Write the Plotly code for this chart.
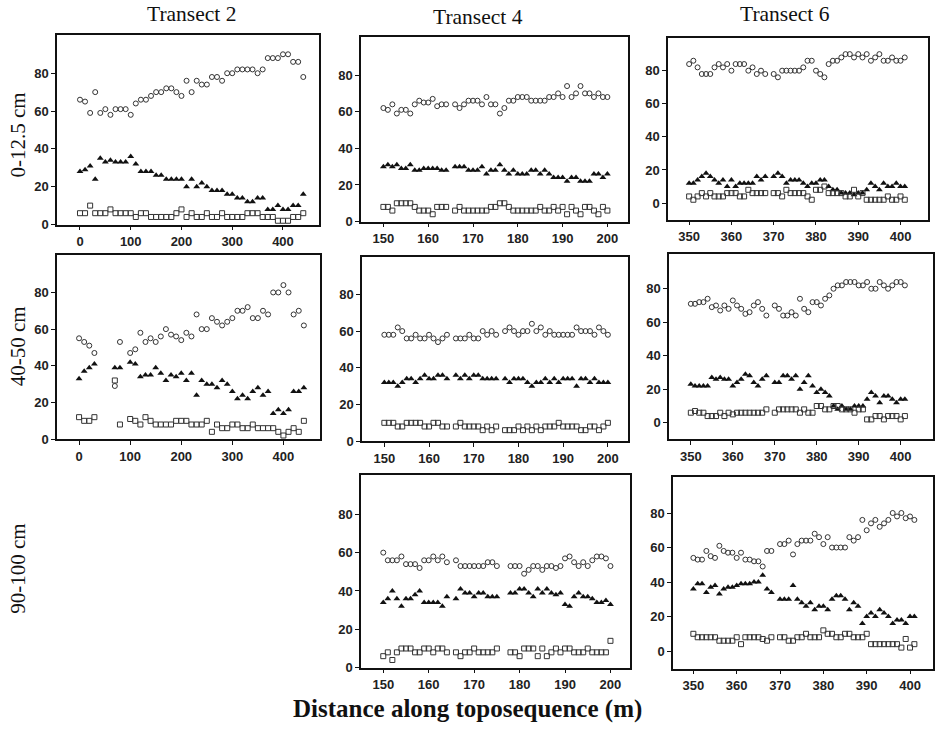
import plotly.graph_objects as go

# ---------------- distances (m) ----------------
T2_X = list(range(0, 450, 10))      # 0 .. 440
T4_X = list(range(150, 201))        # 150 .. 200
T6_X = list(range(350, 402))        # 350 .. 401
N = None

# ---------------- Transect 2, 0-12.5 cm ----------------
t2_d1_circ = [66, 65, 59, 70, 59, 61, 58, 61, 61, 61, 58, 64, 66, 66, 68, 70, 70, 72, 72, 70,
              68, 76, 70, 76, 74, 74, 78, 78, 76, 80, 80, 82, 82, 82, 82, 80, 82, 88, 88, 88,
              90, 90, 86, 86, 78]
t2_d1_tri = [28, 29, 31, 24, 35, 33, 34, 33, 33, 33, 36, 32, 28, 28, 28, 26, 26, 24, 24, 24,
             24, 20, 24, 20, 22, 20, 18, 18, 18, 16, 16, 14, 14, 12, 12, 14, 14, 8, 8, 10,
             8, 8, 10, 10, 16]
t2_d1_sq = [6, 6, 10, 6, 6, 6, 8, 6, 6, 6, 6, 4, 6, 6, 4, 4, 4, 4, 4, 6,
            8, 4, 6, 4, 4, 6, 4, 4, 6, 4, 4, 4, 4, 6, 6, 6, 4, 4, 4, 2,
            2, 2, 4, 4, 6]

# ---------------- Transect 2, 40-50 cm ----------------
t2_d2_circ = [55, 53, 51, 47, N, N, N, 29, 53, N,
              47, 49, 58, 53, 55, 53, 56, 60, 57, 56,
              54, 58, 56, 68, 60, 60, 66, 64, 62, 64,
              66, 70, 70, 72, 66, 66, 70, 68, 80, 80,
              84, 80, 68, 70, 62]
t2_d2_tri = [33, 37, 39, 41, N, N, N, 39, 39, N,
             42, 41, 34, 35, 35, 39, 36, 32, 35, 34,
             36, 32, 36, 24, 32, 30, 30, 28, 32, 30,
             26, 22, 24, 22, 26, 28, 24, 26, 14, 16,
             14, 16, 26, 26, 28]
t2_d2_sq = [12, 10, 10, 12, N, N, N, 32, 8, N,
            11, 10, 8, 12, 10, 8, 8, 8, 8, 10,
            10, 10, 8, 8, 8, 10, 4, 8, 6, 6,
            8, 8, 6, 6, 8, 6, 6, 6, 6, 4,
            2, 4, 6, 4, 10]

# ---------------- Transect 4, 0-12.5 cm ----------------
t4_d1_circ = [62, 61, 64, 59, 61, 61, 59, 64, 66, 65, 65, 67, 63, 64, 64, N,
              64, 62, 64, 66, 66, 66, 64, 68, 64, 64,
              59, 62, 66, 66, 68, 68, 68, 66, 66, 66,
              66, 68, 68, 70, 68, 74, 68, 70, 74, 70,
              70, 68, 70, 68, 68]
t4_d1_tri = [30, 31, 30, 31, 29, 29, 31, 28, 28, 29, 29, 29, 29, 28, 28, N,
             30, 30, 30, 28, 28, 28, 30, 26, 28, 28,
             31, 28, 26, 28, 26, 26, 26, 28, 28, 26,
             28, 26, 24, 24, 24, 22, 24, 24, 22, 22,
             22, 26, 26, 24, 26]
t4_d1_sq = [8, 8, 6, 10, 10, 10, 10, 8, 6, 6, 6, 4, 8, 8, 8, N,
            6, 8, 6, 6, 6, 6, 6, 6, 8, 8,
            10, 10, 8, 6, 6, 6, 6, 6, 6, 8,
            6, 6, 8, 6, 8, 4, 8, 6, 4, 8,
            8, 6, 4, 8, 6]

# ---------------- Transect 4, 40-50 cm ----------------
t4_d2_circ = [58, 58, 58, 62, 60, 56, 56, 58, 56, 56, 58, 56, 54, 56, 58, N,
              56, 56, 56, 58, 56, 56, 60, 58, 60, 58, N,
              60, 62, 60, 58, 60, 60, 64, 60, 62, 58,
              60, 58, 58, 58, 58, 58, 62, 60, 60, 60,
              58, 62, 60, 58]
t4_d2_tri = [32, 32, 32, 30, 32, 34, 34, 32, 34, 36, 34, 34, 36, 36, 34, N,
             36, 34, 36, 34, 36, 36, 34, 34, 34, 34, N,
             34, 32, 34, 34, 34, 32, 30, 32, 32, 34,
             32, 34, 32, 34, 34, 34, 30, 34, 34, 32,
             34, 32, 32, 32]
t4_d2_sq = [10, 10, 10, 8, 8, 10, 10, 10, 10, 8, 8, 10, 10, 8, 8, N,
            8, 10, 8, 8, 8, 8, 6, 8, 6, 8, N,
            6, 6, 6, 8, 6, 8, 6, 8, 6, 8,
            8, 8, 10, 8, 8, 8, 8, 6, 6, 8,
            8, 6, 8, 10]

# ---------------- Transect 4, 90-100 cm ----------------
t4_d3_circ = [60, 56, 56, 56, 58, 54, 54, 54, 52, 56, 56, 58, 56, 58, 55, N,
              56, 53, 53, 53, 53, 53, 53, 55, 55, 53, N, N,
              53, 53, 53, 49, 51, 53, 53, 51, 53, 53,
              52, 53, 57, 58, 55, 53, 55, 53, 56, 58,
              58, 57, 53]
t4_d3_tri = [34, 36, 40, 36, 32, 36, 36, 38, 40, 34, 34, 34, 34, 32, 37, N,
             36, 41, 39, 39, 37, 39, 39, 37, 37, 37, N, N,
             39, 39, 41, 41, 39, 37, 41, 39, 41, 39,
             38, 39, 33, 32, 37, 39, 37, 37, 36, 34,
             34, 35, 33]
t4_d3_sq = [6, 8, 4, 8, 10, 10, 10, 8, 8, 10, 10, 8, 10, 10, 8, N,
            8, 6, 8, 8, 10, 8, 8, 8, 8, 10, N, N,
            8, 8, 6, 10, 10, 10, 6, 10, 6, 8,
            10, 8, 10, 10, 8, 8, 8, 10, 8, 8,
            8, 8, 14]

# ---------------- Transect 6, 0-12.5 cm ----------------
t6_d1_circ = [84, 86, 82, 78, 78, 78, 82, 84, 82, 84, 80, 84, 84, 84, 80, 82, 78, 80, 78, N,
              78, 76, 80, 80, 80, 80, 80, 82, 86, 86,
              80, 78, 76, 84, 86, 86, 88, 90, 90, 88,
              90, 88, 90, 86, 88, 90, 86, 86, 88, 86,
              86, 88]
t6_d1_tri = [12, 12, 14, 16, 18, 16, 14, 12, 14, 10, 14, 10, 12, 12, 12, 12, 16, 14, 16, N,
             16, 18, 16, 12, 14, 14, 14, 12, 10, 12,
             12, 14, 14, 10, 8, 8, 6, 6, 6, 5,
             6, 6, 8, 12, 10, 8, 12, 10, 10, 12,
             10, 10]
t6_d1_sq = [4, 2, 4, 6, 4, 6, 4, 4, 4, 6, 6, 6, 4, 4, 8, 6, 6, 6, 6, N,
            6, 6, 4, 8, 6, 6, 6, 6, 4, 2,
            8, 8, 10, 6, 6, 6, 6, 4, 4, 8,
            4, 6, 2, 2, 2, 2, 2, 4, 2, 2,
            4, 2]

# ---------------- Transect 6, 40-50 cm ----------------
t6_d2_circ = [71, 71, 72, 72, 74, 69, 70, 67, 70, 68, 73, 70, 68, 65, 66, 70, 72, 68, 64, N,
              70, 68, 64, 64, 66, 64, 74, 68, 66, 72,
              72, 70, 74, 76, 80, 82, 82, 84, 84, 84,
              82, 82, 84, 80, 80, 84, 82, 80, 82, 84,
              84, 82]
t6_d2_tri = [23, 22, 22, 22, 22, 27, 26, 27, 26, 26, 22, 24, 26, 29, 28, 24, 22, 26, 28, N,
             24, 24, 28, 28, 26, 28, 20, 24, 28, 22,
             18, 20, 18, 16, 10, 8, 10, 8, 8, 10,
             10, 10, 14, 18, 16, 12, 16, 16, 14, 12,
             14, 14]
t6_d2_sq = [6, 7, 6, 6, 4, 4, 4, 6, 4, 6, 5, 6, 6, 6, 6, 6, 6, 6, 8, N,
            6, 8, 8, 8, 8, 8, 6, 8, 6, 6,
            10, 10, 8, 8, 10, 10, 8, 8, 8, 6,
            8, 8, 2, 2, 4, 4, 2, 4, 4, 4,
            2, 4]

# ---------------- Transect 6, 90-100 cm ----------------
t6_d3_circ = [54, 53, 53, 58, 55, 54, 61, 58, 57, 57, 54, 57, 53, 53, 52, 52, 49, 58, 58, N,
              62, 62, 64, 56, 62, 64, 64, 64, 68, 66,
              62, 66, 60, 60, 60, 60, 66, 64, 66, 76,
              70, 74, 76, 72, 74, 76, 80, 78, 80, 77,
              78, 76]
t6_d3_tri = [36, 39, 39, 34, 37, 38, 33, 36, 37, 37, 38, 39, 39, 39, 40, 40, 44, 36, 34, N,
             30, 30, 30, 38, 30, 28, 26, 28, 24, 26,
             26, 24, 30, 32, 32, 30, 24, 28, 26, 16,
             20, 22, 20, 24, 22, 20, 16, 18, 18, 16,
             20, 20]
t6_d3_sq = [10, 8, 8, 8, 8, 8, 6, 6, 6, 6, 8, 4, 8, 8, 8, 8, 7, 6, 8, N,
            8, 8, 6, 6, 8, 8, 10, 8, 8, 8,
            12, 10, 10, 8, 8, 10, 10, 8, 8, 8,
            10, 4, 4, 4, 4, 4, 4, 4, 2, 7,
            2, 4]

# ---------------- text ----------------
COL_TITLES = ["Transect 2", "Transect 4", "Transect 6"]
ROW_TITLES = ["0-12.5 cm", "40-50 cm", "90-100 cm"]
X_TITLE = "Distance along toposequence (m)"
Y_TICKS = [0, 20, 40, 60, 80]
T2_TICKS = [0, 100, 200, 300, 400]
T4_TICKS = [150, 160, 170, 180, 190, 200]
T6_TICKS = [350, 360, 370, 380, 390, 400]

W, H = 935, 737

# panels: (x values, circles, triangles, squares, x-ticks,
#          pixel box (left, right, top, bottom), x range, y range)
panels = [
    (T2_X, t2_d1_circ, t2_d1_tri, t2_d1_sq, T2_TICKS, (57, 319, 35, 227), (-45.3, 471), (0, 100.4)),
    (T4_X, t4_d1_circ, t4_d1_tri, t4_d1_sq, T4_TICKS, (361, 628, 37, 224), (145.0, 204.6), (0, 101)),
    (T6_X, t6_d1_circ, t6_d1_tri, t6_d1_sq, T6_TICKS, (668, 928, 38, 222), (345.0, 406.5), (-10, 100)),
    (T2_X, t2_d2_circ, t2_d2_tri, t2_d2_sq, T2_TICKS, (57, 320, 258, 444), (-43.2, 471.6), (0, 100.3)),
    (T4_X, t4_d2_circ, t4_d2_tri, t4_d2_sq, T4_TICKS, (362, 628, 260, 446), (145.0, 204.5), (0, 100.3)),
    (T6_X, t6_d2_circ, t6_d2_tri, t6_d2_sq, T6_TICKS, (669, 933, 257, 444), (344.8, 407.7), (-9.8, 100.6)),
    (T4_X, t4_d3_circ, t4_d3_tri, t4_d3_sq, T4_TICKS, (361, 630, 480, 675), (145.1, 204.3), (0, 100.6)),
    (T6_X, t6_d3_circ, t6_d3_tri, t6_d3_sq, T6_TICKS, (673, 933, 482, 676), (345.3, 405.3), (-10.2, 101)),
]

fig = go.Figure()
tickfont = dict(family="Liberation Sans, Arial, sans-serif", size=13, color="#222", weight="bold")
layout_axes = {}

for i, (xs, circ, tri, sq, xt, box, xr, yr) in enumerate(panels, start=1):
    sfx = "" if i == 1 else str(i)
    xa, ya = "x" + sfx, "y" + sfx
    fig.add_trace(go.Scatter(x=xs, y=circ, mode="markers", xaxis=xa, yaxis=ya, showlegend=False,
                             marker=dict(symbol="circle-open", size=5, color="#333",
                                         line=dict(width=1, color="#333"))))
    fig.add_trace(go.Scatter(x=xs, y=tri, mode="markers", xaxis=xa, yaxis=ya, showlegend=False,
                             marker=dict(symbol="triangle-up", size=6, color="#111",
                                         line=dict(width=0))))
    fig.add_trace(go.Scatter(x=xs, y=sq, mode="markers", xaxis=xa, yaxis=ya, showlegend=False,
                             marker=dict(symbol="square-open", size=5, color="#333",
                                         line=dict(width=1, color="#333"))))
    l, r, t, b = box
    common = dict(showline=True, linecolor="#111", linewidth=1.5, mirror=True,
                  showgrid=False, zeroline=False, ticks="outside", ticklen=4,
                  tickcolor="#111", tickwidth=1, tickfont=tickfont)
    layout_axes["xaxis" + sfx] = dict(domain=[l / W, r / W], range=list(xr), anchor=ya,
                                      tickmode="array", tickvals=xt, **common)
    layout_axes["yaxis" + sfx] = dict(domain=[1 - b / H, 1 - t / H], range=list(yr), anchor=xa,
                                      tickmode="array", tickvals=Y_TICKS, **common)

serif = "Liberation Serif, Times New Roman, serif"
annotations = []
for txt, cx, cy in zip(COL_TITLES, [191, 478, 785], [14, 17, 14]):
    annotations.append(dict(text=txt, x=cx / W, y=1 - cy / H, xref="paper", yref="paper",
                            showarrow=False, xanchor="center", yanchor="middle",
                            font=dict(family=serif, size=21.5, color="#111")))
for txt, cy in zip(ROW_TITLES, [137, 350, 575]):
    annotations.append(dict(text=txt, x=18 / W, y=1 - cy / H, xref="paper", yref="paper",
                            showarrow=False, xanchor="center", yanchor="middle", textangle=-90,
                            font=dict(family=serif, size=21, color="#111")))
annotations.append(dict(text="<b>" + X_TITLE + "</b>", x=467 / W, y=1 - 717 / H,
                        xref="paper", yref="paper", showarrow=False,
                        xanchor="center", yanchor="middle",
                        font=dict(family=serif, size=25, color="#111")))

fig.update_layout(width=W, height=H, autosize=False,
                  margin=dict(l=0, r=0, t=0, b=0, pad=0),
                  paper_bgcolor="white", plot_bgcolor="white",
                  annotations=annotations, **layout_axes)

fig.write_html("out.html", config={"displayModeBar": False},
               post_script="document.body.style.margin='0';document.body.style.overflow='hidden';")
